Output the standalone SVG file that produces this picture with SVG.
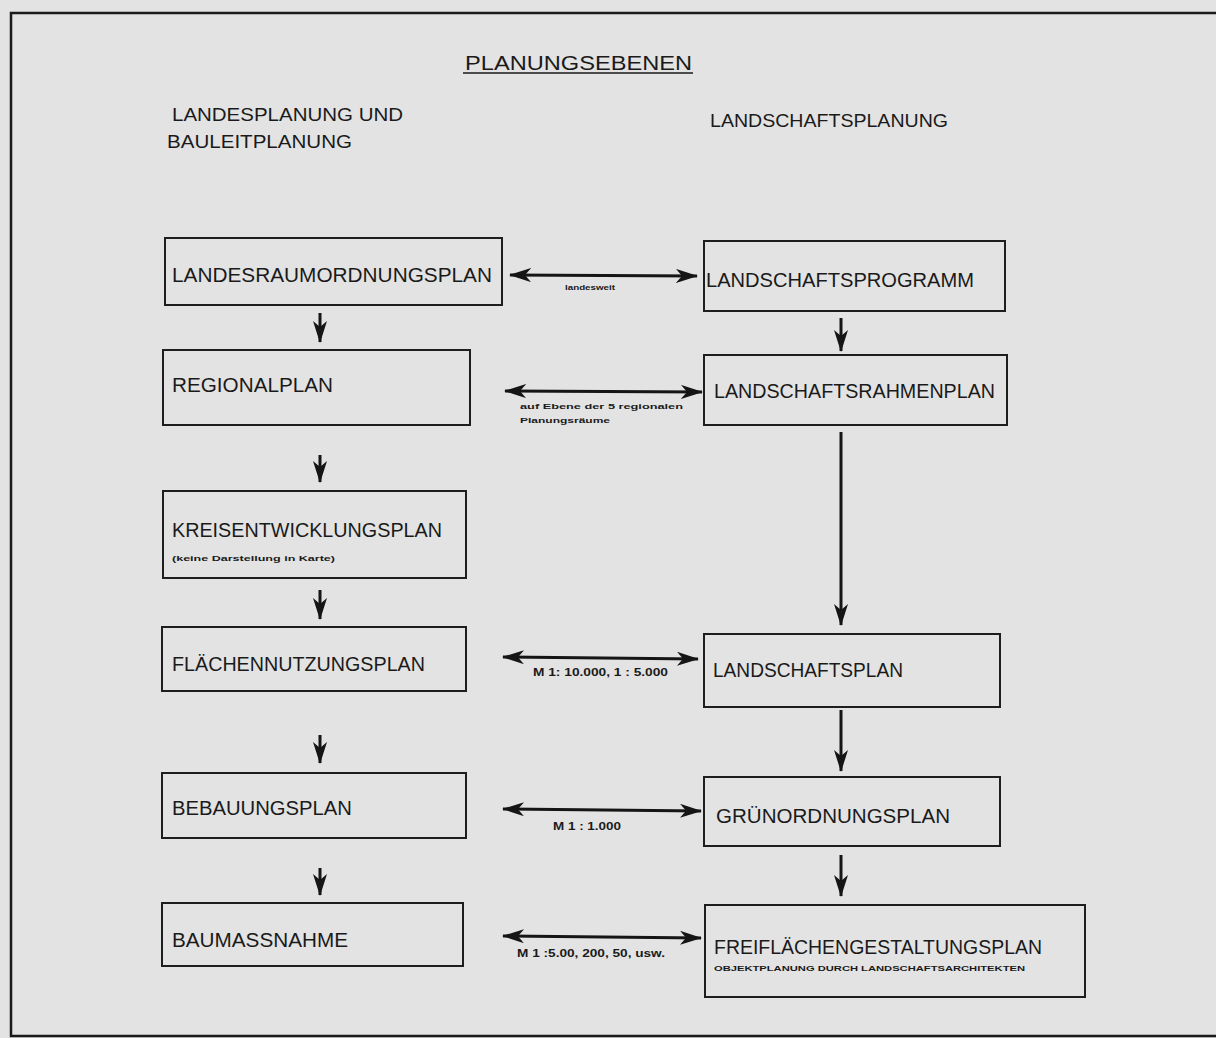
<svg xmlns="http://www.w3.org/2000/svg" width="1216" height="1038" viewBox="0 0 1216 1038">
<defs>
<style>
.bg{fill:#e3e3e3}
.frame{fill:none;stroke:#1a1a1a;stroke-width:2.5}
.box{fill:#e3e3e3;stroke:#1e1e1e;stroke-width:2}
.t{font-family:"Liberation Sans",Arial,sans-serif;font-size:20px;fill:#1a1a1a}
.h{font-family:"Liberation Sans",Arial,sans-serif;font-size:19px;fill:#1a1a1a}
.s{font-family:"Liberation Sans",Arial,sans-serif;font-size:8px;font-weight:bold;fill:#1a1a1a}
.m{font-family:"Liberation Sans",Arial,sans-serif;font-size:10px;font-weight:bold;fill:#1a1a1a}
.c{fill:none;stroke:#151515;stroke-width:3}
</style>
<marker id="ah" viewBox="0 0 22 14" refX="21" refY="7" markerWidth="22" markerHeight="14" markerUnits="userSpaceOnUse" orient="auto-start-reverse">
<path d="M0,0 L22,7 L0,14 L6,7 Z" fill="#151515"/>
</marker>
</defs>
<rect class="bg" x="0" y="0" width="1216" height="1038"/>
<path class="frame" d="M1216,13 L11,13 L11,1036 L1216,1036"/>

<g id="title">
<text class="t" x="465" y="70" font-size="22" textLength="227" lengthAdjust="spacingAndGlyphs">PLANUNGSEBENEN</text>
<line x1="463" y1="73" x2="693" y2="73" stroke="#1a1a1a" stroke-width="1.5"/>
</g>
<g id="header-left">
<text class="h" x="172" y="121" textLength="231" lengthAdjust="spacingAndGlyphs">LANDESPLANUNG UND</text>
<text class="h" x="167" y="148" textLength="185" lengthAdjust="spacingAndGlyphs">BAULEITPLANUNG</text>
</g>
<g id="header-right">
<text class="h" x="710" y="127" textLength="238" lengthAdjust="spacingAndGlyphs">LANDSCHAFTSPLANUNG</text>
</g>

<g id="n-landesraumordnungsplan">
<rect class="box" x="165" y="238" width="337" height="67"/>
<text class="t" x="172" y="282" textLength="320" lengthAdjust="spacingAndGlyphs">LANDESRAUMORDNUNGSPLAN</text>
</g>
<g id="n-regionalplan">
<rect class="box" x="163" y="350" width="307" height="75"/>
<text class="t" x="172" y="392" textLength="161" lengthAdjust="spacingAndGlyphs">REGIONALPLAN</text>
</g>
<g id="n-kreisentwicklungsplan">
<rect class="box" x="163" y="491" width="303" height="87"/>
<text class="t" x="172" y="537" textLength="270" lengthAdjust="spacingAndGlyphs">KREISENTWICKLUNGSPLAN</text>
<text class="s" x="172" y="561" textLength="163" lengthAdjust="spacingAndGlyphs">(keine Darstellung in Karte)</text>
</g>
<g id="n-flaechennutzungsplan">
<rect class="box" x="162" y="627" width="304" height="64"/>
<text class="t" x="172" y="671" textLength="253" lengthAdjust="spacingAndGlyphs">FLÄCHENNUTZUNGSPLAN</text>
</g>
<g id="n-bebauungsplan">
<rect class="box" x="162" y="773" width="304" height="65"/>
<text class="t" x="172" y="815" textLength="180" lengthAdjust="spacingAndGlyphs">BEBAUUNGSPLAN</text>
</g>
<g id="n-baumassnahme">
<rect class="box" x="162" y="903" width="301" height="63"/>
<text class="t" x="172" y="947" textLength="176" lengthAdjust="spacingAndGlyphs">BAUMASSNAHME</text>
</g>

<g id="n-landschaftsprogramm">
<rect class="box" x="704" y="241" width="301" height="70"/>
<text class="t" x="706" y="287" textLength="268" lengthAdjust="spacingAndGlyphs">LANDSCHAFTSPROGRAMM</text>
</g>
<g id="n-landschaftsrahmenplan">
<rect class="box" x="704" y="355" width="303" height="70"/>
<text class="t" x="714" y="398" textLength="281" lengthAdjust="spacingAndGlyphs">LANDSCHAFTSRAHMENPLAN</text>
</g>
<g id="n-landschaftsplan">
<rect class="box" x="704" y="634" width="296" height="73"/>
<text class="t" x="713" y="677" textLength="190" lengthAdjust="spacingAndGlyphs">LANDSCHAFTSPLAN</text>
</g>
<g id="n-gruenordnungsplan">
<rect class="box" x="704" y="777" width="296" height="69"/>
<text class="t" x="716" y="823" textLength="234" lengthAdjust="spacingAndGlyphs">GRÜNORDNUNGSPLAN</text>
</g>
<g id="n-freiflaechengestaltungsplan">
<rect class="box" x="705" y="905" width="380" height="92"/>
<text class="t" x="714" y="954" textLength="328" lengthAdjust="spacingAndGlyphs">FREIFLÄCHENGESTALTUNGSPLAN</text>
<text class="s" x="714" y="971" textLength="311" lengthAdjust="spacingAndGlyphs">OBJEKTPLANUNG DURCH LANDSCHAFTSARCHITEKTEN</text>
</g>

<g id="connectors">
<line class="c" x1="320" y1="313" x2="320" y2="342" marker-end="url(#ah)"/>
<line class="c" x1="320" y1="455" x2="320" y2="482" marker-end="url(#ah)"/>
<line class="c" x1="320" y1="590" x2="320" y2="619" marker-end="url(#ah)"/>
<line class="c" x1="320" y1="735" x2="320" y2="763" marker-end="url(#ah)"/>
<line class="c" x1="320" y1="868" x2="320" y2="895" marker-end="url(#ah)"/>

<line class="c" x1="841" y1="318" x2="841" y2="351" marker-end="url(#ah)"/>
<line class="c" x1="841" y1="432" x2="841" y2="625" marker-end="url(#ah)"/>
<line class="c" x1="841" y1="710" x2="841" y2="771" marker-end="url(#ah)"/>
<line class="c" x1="841" y1="855" x2="841" y2="896" marker-end="url(#ah)"/>

<line class="c" x1="510" y1="275" x2="697" y2="276" marker-start="url(#ah)" marker-end="url(#ah)"/>
<text class="s" x="565" y="290" textLength="50" lengthAdjust="spacingAndGlyphs">landesweit</text>
<line class="c" x1="505" y1="391" x2="702" y2="392" marker-start="url(#ah)" marker-end="url(#ah)"/>
<text class="s" x="520" y="409" textLength="163" lengthAdjust="spacingAndGlyphs">auf Ebene der 5 regionalen</text>
<text class="s" x="520" y="423" textLength="90" lengthAdjust="spacingAndGlyphs">Planungsräume</text>
<line class="c" x1="503" y1="657" x2="698" y2="659" marker-start="url(#ah)" marker-end="url(#ah)"/>
<text class="m" x="533" y="676" textLength="135" lengthAdjust="spacingAndGlyphs">M 1: 10.000, 1 : 5.000</text>
<line class="c" x1="503" y1="809" x2="701" y2="811" marker-start="url(#ah)" marker-end="url(#ah)"/>
<text class="m" x="553" y="830" textLength="68" lengthAdjust="spacingAndGlyphs">M 1 : 1.000</text>
<line class="c" x1="503" y1="936" x2="701" y2="938" marker-start="url(#ah)" marker-end="url(#ah)"/>
<text class="m" x="517" y="957" textLength="148" lengthAdjust="spacingAndGlyphs">M 1 :5.00, 200, 50, usw.</text>
</g>
</svg>
